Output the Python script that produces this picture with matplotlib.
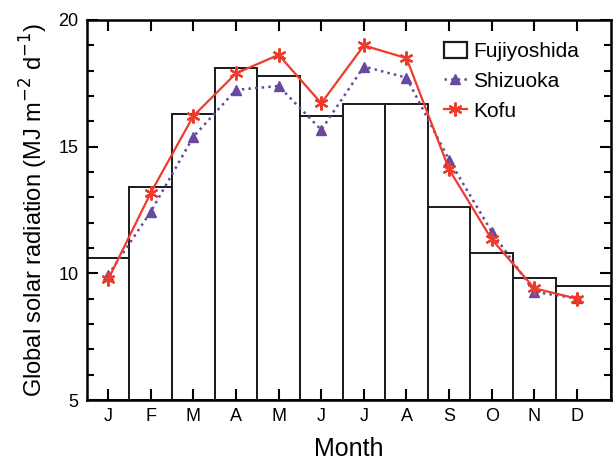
import numpy as np
import matplotlib.pyplot as plt
from matplotlib.patches import Patch
from matplotlib.lines import Line2D

months = ["J", "F", "M", "A", "M", "J", "J", "A", "S", "O", "N", "D"]
fujiyoshida = [10.6, 13.4, 16.3, 18.1, 17.8, 16.2, 16.7, 16.7, 12.6, 10.8, 9.8, 9.5]
shizuoka = [9.93, 12.43, 15.39, 17.24, 17.39, 15.66, 18.16, 17.72, 14.47, 11.64, 9.27, 9.01]
kofu = [9.76, 13.18, 16.21, 17.89, 18.62, 16.71, 18.99, 18.49, 14.1, 11.34, 9.41, 9.0]

RED = "#ee3b2b"
PURPLE = "#6848a0"

plt.rcParams['font.family'] = ['Liberation Sans', 'DejaVu Sans']

def main():
    x = np.arange(1, len(months) + 1)
    fig = plt.figure(figsize=(6.16, 4.62), dpi=100)
    ax = fig.add_axes([0.141, 0.134, 0.851, 0.823])

    widths = [1.0] * (len(months) - 1) + [1.3]
    lefts = x - 0.5
    ax.bar(lefts, np.array(fujiyoshida) - 5, width=widths, bottom=5, align='edge',
           facecolor='white', edgecolor='#1a1a1a', linewidth=1.4, zorder=1)
    ax.plot(x, shizuoka, color=PURPLE, linestyle=':', linewidth=1.8,
            marker='^', markersize=7, zorder=3)
    ax.plot(x, kofu, color=RED, linestyle='-', linewidth=1.6,
            marker=(6, 2, 0), markersize=10, markeredgewidth=1.6, zorder=4)

    ax.set_xlim(0.5, 12.8)
    ax.set_ylim(5, 20)
    ax.set_xticks(x)
    ax.set_xticklabels(months)
    ax.set_yticks([5, 10, 15, 20])
    ax.set_yticks(np.arange(5, 21, 1), minor=True)
    ax.tick_params(which='both', direction='in', top=True, right=True, labelsize=13, width=1.5)
    ax.tick_params(which='major', length=8, pad=6)
    ax.tick_params(which='minor', length=5)
    ax.tick_params(axis='x', which='minor', top=False, bottom=False)
    for s in ax.spines.values():
        s.set_linewidth(1.8)

    ax.set_xlabel("Month", fontsize=18, labelpad=8)
    ax.set_ylabel("Global solar radiation (MJ m$^{-2}$ d$^{-1}$)", fontsize=17, labelpad=6)

    handles = [
        Patch(facecolor='white', edgecolor='#1a1a1a', linewidth=1.6),
        Line2D([], [], color=PURPLE, linestyle=':', linewidth=1.8, marker='^', markersize=7),
        Line2D([], [], color=RED, linestyle='-', linewidth=1.6, marker=(6, 2, 0),
               markersize=10, markeredgewidth=1.6),
    ]
    ax.legend(handles, ["Fujiyoshida", "Shizuoka", "Kofu"], loc='upper right',
              frameon=False, fontsize=15, handlelength=1.1, handleheight=0.8,
              handletextpad=0.3, labelspacing=0.5, borderpad=0.3,
              bbox_to_anchor=(0.97, 0.985))

    fig.savefig("out.png", dpi=100)

if __name__ == '__main__':
    main()
